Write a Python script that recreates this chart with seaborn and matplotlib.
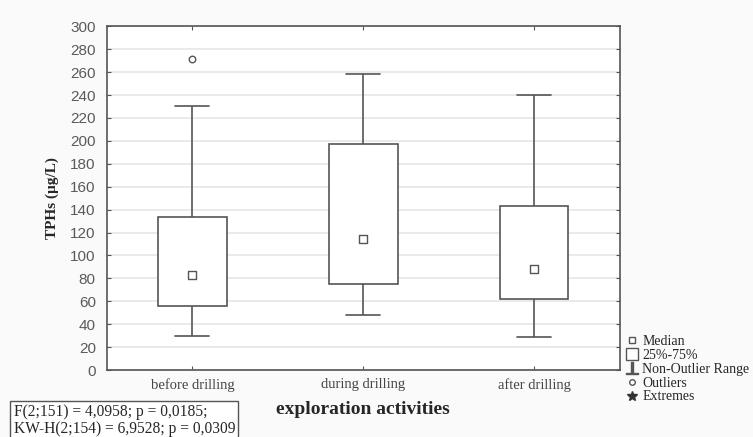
import numpy as np
import pandas as pd
import seaborn as sns
import matplotlib.pyplot as plt
from matplotlib.lines import Line2D

# Data (five-number summary per group)
groups = ["before drilling", "during drilling", "after drilling"]
whisker_low = [30, 48, 29]
q1 = [56, 75, 62]
median = [83, 114, 88]
q3 = [134, 197, 143]
whisker_high = [230, 258, 240]
outlier_group = ["before drilling"]
outlier_value = [271]

stats_text = "F(2;151) = 4,0958; p = 0,0185;\nKW-H(2;154) = 6,9528; p = 0,0309"

# long-form table: 5 points per group give exactly these quartiles
rows = []
for i, g in enumerate(groups):
    for v in [whisker_low[i], q1[i], median[i], q3[i], whisker_high[i]]:
        rows.append({"group": g, "TPHs": v})
df = pd.DataFrame(rows)
med_df = pd.DataFrame({"group": groups, "TPHs": median})
out_df = pd.DataFrame({"group": outlier_group, "TPHs": outlier_value})

sns.set_style("white")
plt.rcParams["font.family"] = ["Liberation Serif", "DejaVu Serif"]

fig, ax = plt.subplots(figsize=(7.53, 4.37), dpi=100, facecolor="#fafafa")
fig.subplots_adjust(left=0.142, right=0.823, top=0.94, bottom=0.153)
ax.set_facecolor("white")

ax.yaxis.grid(True, color="#e6e6e6", linewidth=1.2)
ax.set_axisbelow(True)

edge = "#555555"
sns.boxplot(data=df, x="group", y="TPHs", order=groups, whis=(0, 100),
            width=0.4, showfliers=False, color="white", linecolor=edge,
            linewidth=1.2, ax=ax, medianprops=dict(linewidth=0))
# shorter caps
for line in ax.lines:
    xd = line.get_xdata()
    if len(xd) == 2 and xd[0] != xd[1]:
        c = (xd[0] + xd[1]) / 2
        line.set_xdata([c - 0.1, c + 0.1])

sns.scatterplot(data=med_df, x="group", y="TPHs", marker="s", s=28,
                facecolor="white", edgecolor=edge, linewidth=1.0, ax=ax, zorder=5)
sns.scatterplot(data=out_df, x="group", y="TPHs", marker="o", s=22,
                facecolor="white", edgecolor=edge, linewidth=1.0, ax=ax, zorder=5)

ax.set_xlim(-0.5, 2.5)
ax.set_ylim(0, 300)
ax.set_yticks(np.arange(0, 301, 20))
for s in ax.spines.values():
    s.set_color(edge)
    s.set_linewidth(1.2)
ax.tick_params(direction="in", length=3, color=edge, top=True, right=True,
               left=True, bottom=True)
ax.tick_params(axis="y", labelsize=11, labelcolor="#5a5a5a", pad=8)
ax.tick_params(axis="x", labelsize=10.5, labelcolor="#444444", pad=6)
for lab in ax.get_yticklabels():
    lab.set_family(["Liberation Sans", "DejaVu Sans"])

ax.set_xlabel("exploration activities", fontsize=14, fontweight="bold", labelpad=6)
ax.set_ylabel("TPHs (µg/L)", fontsize=11, fontweight="bold", labelpad=8)

handles = [
    Line2D([], [], marker="s", ls="none", ms=5, mfc="white", mec=edge),
    Line2D([], [], marker="s", ls="none", ms=9, mfc="white", mec=edge),
    Line2D([], [], marker="$\\perp$", ls="none", ms=9, color=edge),
    Line2D([], [], marker="o", ls="none", ms=4, mfc="white", mec=edge),
    Line2D([], [], marker="*", ls="none", ms=7, color="#333333"),
]
labels = ["Median", "25%-75%", "Non-Outlier Range", "Outliers", "Extremes"]
ax.legend(handles, labels, loc="lower left", bbox_to_anchor=(0.995, -0.125),
          frameon=False, fontsize=10, handlelength=0.8, handletextpad=0.3,
          labelspacing=0.06, borderaxespad=0.3)

fig.text(0.018, 0.0, stats_text, fontsize=11.2, ha="left", va="bottom",
         linespacing=1.08,
         bbox=dict(boxstyle="square,pad=0.2", facecolor="white", edgecolor="#555555"))

fig.savefig("out.png", dpi=100, facecolor=fig.get_facecolor())
